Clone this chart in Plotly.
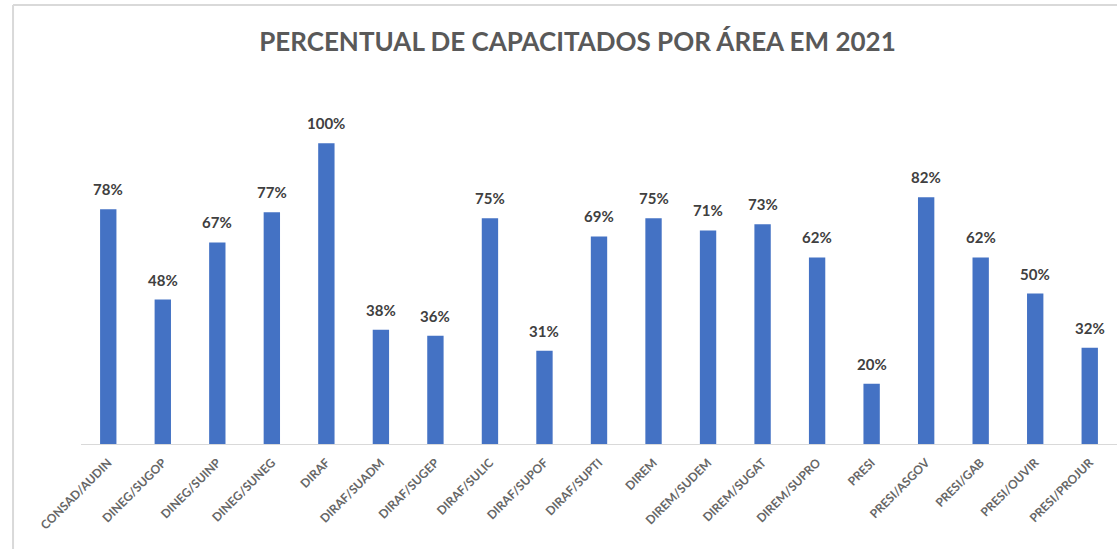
import plotly.graph_objects as go

# áreas e percentual de capacitados (2021)
AREAS = [
    "CONSAD/AUDIN", "DINEG/SUGOP", "DINEG/SUINP", "DINEG/SUNEG", "DIRAF",
    "DIRAF/SUADM", "DIRAF/SUGEP", "DIRAF/SULIC", "DIRAF/SUPOF", "DIRAF/SUPTI",
    "DIREM", "DIREM/SUDEM", "DIREM/SUGAT", "DIREM/SUPRO", "PRESI",
    "PRESI/ASGOV", "PRESI/GAB", "PRESI/OUVIR", "PRESI/PROJUR",
]
PERCENTUAL = [78, 48, 67, 77, 100, 38, 36, 75, 31, 69, 75, 71, 73, 62, 20, 82, 62, 50, 32]

TITULO = "PERCENTUAL DE CAPACITADOS POR ÁREA EM 2021"

fig = go.Figure(go.Bar(
    x=AREAS, y=PERCENTUAL, width=0.3,
    marker=dict(color="#4472c4", line_width=0),
    hoverinfo="x+y",
))

# rótulos de dados acima das barras (um pouco mais afastados que o padrão)
for area, v in zip(AREAS, PERCENTUAL):
    fig.add_annotation(x=area, y=v, text=f"{v}%", showarrow=False,
                       yanchor="bottom", yshift=9,
                       font=dict(family="Lato", size=15, color="#404040", weight="bold"))

fig.update_layout(
    width=1117, height=549,
    title=dict(text=TITULO, x=0.517, xanchor="center", y=0.923, yanchor="middle",
               font=dict(family="Lato", size=26, color="#595959", weight="bold")),
    xaxis=dict(range=[-0.5, len(AREAS) - 0.5], tickangle=-45, showline=True,
               linecolor="#d9d9d9", linewidth=1, ticks="", showgrid=False,
               ticklabelstandoff=6,
               tickfont=dict(family="Lato", size=12, color="#666666", weight="bold")),
    yaxis=dict(range=[0, 115], visible=False, showgrid=False),
    margin=dict(l=81, r=0, t=98, b=105),
    plot_bgcolor="white", paper_bgcolor="white", showlegend=False,
    # moldura cinza (só as bordas superior e esquerda ficam visíveis)
    shapes=[
        dict(type="line", xref="paper", yref="paper", x0=-0.0656, x1=1.05,
             y0=1.269, y1=1.269, line=dict(color="#d9d9d9", width=2)),
        dict(type="line", xref="paper", yref="paper", x0=-0.0656, x1=-0.0656,
             y0=1.269, y1=-0.35, line=dict(color="#d9d9d9", width=2)),
    ],
)

fig.write_html("out.html", config={"displayModeBar": False},
               post_script="document.body.style.margin='0';")
